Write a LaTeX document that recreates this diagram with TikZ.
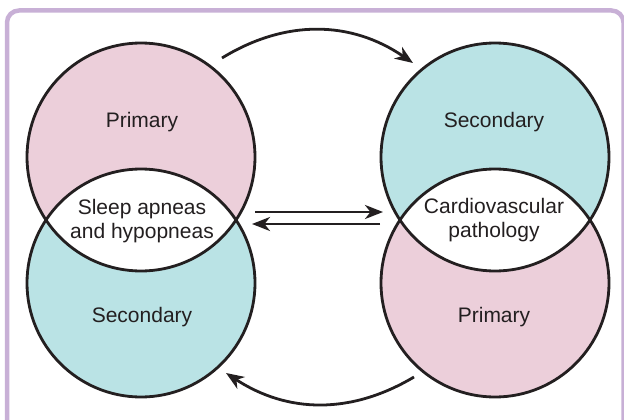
\documentclass[tikz,border=0pt]{standalone}
\usepackage{fontspec}
\setmainfont{Liberation Sans}
\usetikzlibrary{arrows.meta}
\definecolor{pinkfill}{RGB}{236,207,218}
\definecolor{tealfill}{RGB}{186,227,229}
\definecolor{framepurple}{RGB}{200,176,214}
\definecolor{ink}{RGB}{35,31,32}
\begin{document}
\begin{tikzpicture}[x=1pt,y=-1pt,
  disc/.style={circle,minimum size=228pt,inner sep=0pt,outer sep=0pt},
  rim/.style={draw=ink,line width=2.8pt},
  lbl/.style={font=\fontsize{21}{23.5}\selectfont,text=ink,align=center,inner sep=0pt},
  conn/.style={draw=ink,line width=2.8pt,-{Stealth[length=18pt,width=14pt,inset=5.5pt]}}]
\useasboundingbox (0,0) rectangle (624,420);
% outer frame
\draw[framepurple,line width=4.5pt,rounded corners=12pt] (7,10.5) rectangle (623.5,440);
% left pair of circles
\node[disc,fill=pinkfill] (lp) at (141,157) {};
\node[disc,fill=tealfill] (ls) at (141,283) {};
% right pair of circles
\node[disc,fill=tealfill] (rs) at (495,157) {};
\node[disc,fill=pinkfill] (rp) at (495,283) {};
% white overlaps
\begin{scope}
  \clip (lp.center) circle[radius=114pt];
  \fill[white] (ls.center) circle[radius=114pt];
\end{scope}
\begin{scope}
  \clip (rs.center) circle[radius=114pt];
  \fill[white] (rp.center) circle[radius=114pt];
\end{scope}
% outlines
\foreach \c in {lp,ls,rs,rp} \draw[rim] (\c.center) circle[radius=114pt];
% labels
\node[lbl,anchor=base] (lpt) at (142,128) {Primary};
\node[lbl,anchor=base] (lst) at (142,322) {Secondary};
\node[lbl,anchor=base] (rst) at (494,128) {Secondary};
\node[lbl,anchor=base] (rpt) at (494,322) {Primary};
\node[lbl] (sleep) at (142,221) {Sleep apneas\\and hypopneas};
\node[lbl] (cardio) at (494,220) {Cardiovascular\\pathology};
% connector end points
\coordinate (t1) at ([shift={(81,-99)}]lp.center);
\coordinate (t2) at ([shift={(-82,-94)}]rs.center);
\coordinate (b1) at ([shift={(-81,94)}]rp.center);
\coordinate (b2) at ([shift={(85,90)}]ls.center);
\coordinate (m1) at ([shift={(113,-9)}]sleep.center);
\coordinate (m2) at ([shift={(-111,-8)}]cardio.center);
\coordinate (m3) at ([shift={(-114,4)}]cardio.center);
\coordinate (m4) at ([shift={(110,3)}]sleep.center);
% connectors
\draw[conn] (t1) to[bend left=33] (t2);
\draw[conn] (b1) to[bend left=32] (b2);
\draw[conn] (m1) -- (m2);
\draw[conn] (m3) -- (m4);
\end{tikzpicture}
\end{document}
